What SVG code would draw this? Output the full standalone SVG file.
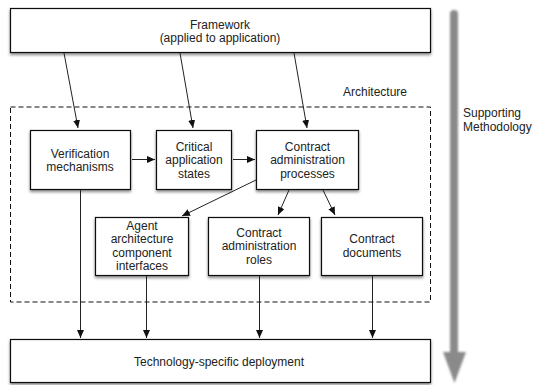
<svg xmlns="http://www.w3.org/2000/svg" width="538" height="385" viewBox="0 0 538 385">
<defs>
<filter id="sh" x="-10%" y="-10%" width="120%" height="130%">
<feDropShadow dx="0" dy="2" stdDeviation="1.8" flood-color="#000" flood-opacity="0.45"/>
</filter>
<filter id="gsh" x="-100%" y="-5%" width="300%" height="110%">
<feGaussianBlur stdDeviation="1.2"/>
</filter>
<marker id="ah" markerUnits="userSpaceOnUse" markerWidth="9" markerHeight="8" refX="8" refY="3.5" orient="auto">
<path d="M0,0 L8,3.5 L0,7 z" fill="#111"/>
</marker>
<style>
.box{fill:#fff;stroke:#111;stroke-width:1.2;filter:url(#sh)}
.t{font-family:"Liberation Sans",Arial,sans-serif;font-size:12px;fill:#222;text-anchor:middle}
.tl{font-family:"Liberation Sans",Arial,sans-serif;font-size:12px;fill:#222}
.c{stroke:#222;stroke-width:1;fill:none;marker-end:url(#ah)}
</style>
</defs>
<rect width="538" height="385" fill="#fff"/>

<g id="architecture">
<rect x="10.5" y="107" width="420" height="195" fill="none" stroke="#111" stroke-width="1" stroke-dasharray="5,3"/>
<text class="tl" x="343" y="96">Architecture</text>
</g>

<g id="methodology">
<g filter="url(#gsh)" fill="#8a8a8a">
<path d="M450,14 a4,4 0 0 1 8,0 L458,353 L450,353 z"/>
<polygon points="443,352 466,352 454.5,383"/>
</g>
<text class="tl" x="463" y="117">Supporting</text>
<text class="tl" x="463" y="131">Methodology</text>
</g>

<g id="framework">
<rect class="box" x="10.5" y="8.5" width="420" height="44"/>
<text class="t" x="220" y="29">Framework</text>
<text class="t" x="220" y="42">(applied to application)</text>
</g>

<g id="verification">
<rect class="box" x="30.5" y="130.5" width="100" height="59"/>
<text class="t" x="80" y="157.5">Verification</text>
<text class="t" x="80" y="171">mechanisms</text>
</g>

<g id="critical">
<rect class="box" x="156.5" y="130.5" width="75" height="59"/>
<text class="t" x="194" y="150.5">Critical</text>
<text class="t" x="194" y="164">application</text>
<text class="t" x="194" y="177.5">states</text>
</g>

<g id="processes">
<rect class="box" x="256.5" y="130.5" width="102" height="59"/>
<text class="t" x="307.5" y="150.5">Contract</text>
<text class="t" x="307.5" y="164">administration</text>
<text class="t" x="307.5" y="177.5">processes</text>
</g>

<g id="agent">
<rect class="box" x="95.5" y="217.5" width="93" height="58"/>
<text class="t" x="142" y="229.5">Agent</text>
<text class="t" x="142" y="243">architecture</text>
<text class="t" x="142" y="256.5">component</text>
<text class="t" x="142" y="270">interfaces</text>
</g>

<g id="roles">
<rect class="box" x="208.5" y="217.5" width="101" height="58"/>
<text class="t" x="259" y="236.5">Contract</text>
<text class="t" x="259" y="250">administration</text>
<text class="t" x="259" y="263.5">roles</text>
</g>

<g id="documents">
<rect class="box" x="321.5" y="217.5" width="101" height="58"/>
<text class="t" x="372" y="243">Contract</text>
<text class="t" x="372" y="256.5">documents</text>
</g>

<g id="deployment">
<rect class="box" x="10.5" y="339.5" width="420" height="43"/>
<text class="t" x="219" y="366">Technology-specific deployment</text>
</g>

<g id="connectors">
<line class="c" x1="64" y1="53" x2="78" y2="128"/>
<line class="c" x1="180" y1="53" x2="193" y2="128"/>
<line class="c" x1="294" y1="53" x2="307" y2="128"/>
<line class="c" x1="132" y1="159.5" x2="155" y2="159.5"/>
<line class="c" x1="233" y1="159.5" x2="255" y2="159.5"/>
<line class="c" x1="256" y1="180" x2="182" y2="216"/>
<line class="c" x1="289" y1="190" x2="278" y2="215"/>
<line class="c" x1="323" y1="190" x2="335" y2="215"/>
<line class="c" x1="80.5" y1="190" x2="80.5" y2="338"/>
<line class="c" x1="146.5" y1="276" x2="146.5" y2="338"/>
<line class="c" x1="259.5" y1="276" x2="259.5" y2="338"/>
<line class="c" x1="372.5" y1="276" x2="372.5" y2="338"/>
</g>
</svg>
